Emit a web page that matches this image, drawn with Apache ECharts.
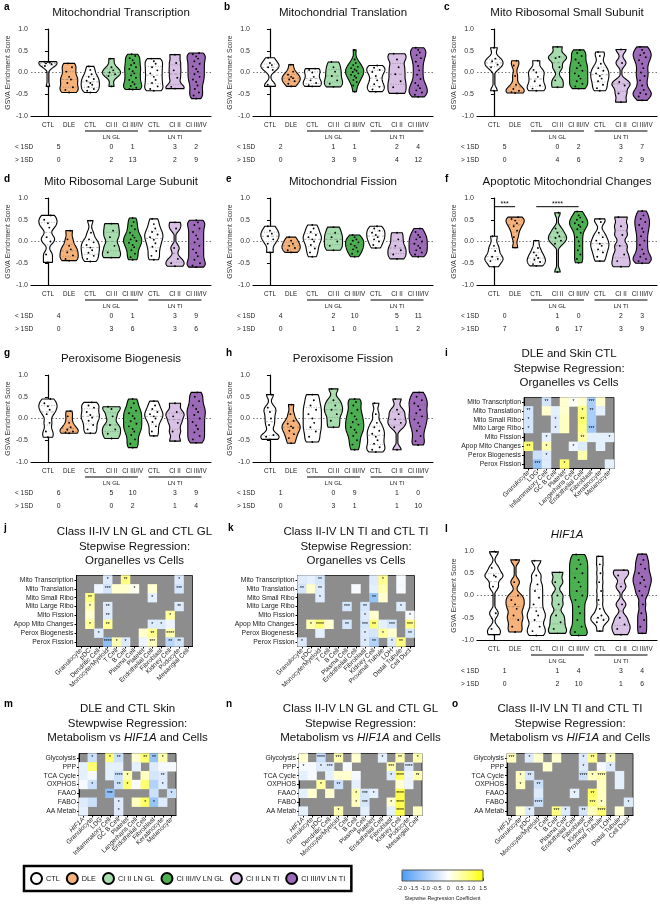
<!DOCTYPE html>
<html>
<head>
<meta charset="utf-8">
<script src="https://cdn.jsdelivr.net/npm/echarts@6/dist/echarts.min.js"></script>
<style>
  html, body { margin: 0; padding: 0; background: #fff; }
  #chart { width: 660px; height: 904px; }
</style>
</head>
<body>
<div id="chart"></div>
<script>
const FONT = '"Liberation Sans", Arial, sans-serif'

// ---- violin panels ----
const violinCats = ['CTL', 'DLE', 'CTL', 'CI II', 'CI III/IV', 'CTL', 'CI II', 'CI III/IV']
const groupNames = ['CTL', 'DLE', 'CTL', 'CI II LN GL', 'CI III/IV LN GL', 'CTL', 'CI II LN TI', 'CI III/IV LN TI']
const legendNames = ['CTL', 'DLE', 'CI II LN GL', 'CI III/IV LN GL', 'CI II LN TI', 'CI III/IV LN TI']
const sdRowLabels = ['< 1SD', '> 1SD']
const bracketLabels = ['LN GL', 'LN TI']
const bracketRanges = [[2, 4], [5, 7]]

const mitoTranscription = [
  [0.25, 0.24, 0.23, 0.21, 0.19, 0.15, -0.32],
  [0.21, 0.12, 0.02, -0.1, -0.16, -0.24, -0.34, -0.40, -0.46],
  [0.14, 0.06, -0.04, -0.1, -0.15, -0.19, -0.24, -0.28, -0.33, -0.38, -0.42, -0.46],
  [0.32, 0.12, 0.05, 0.0, -0.04, -0.08, -0.32],
  [0.42, 0.38, 0.33, 0.28, 0.22, 0.17, 0.12, 0.08, 0.03, -0.02, -0.07, -0.12, -0.17, -0.22, -0.27, -0.31, -0.35, -0.38, -0.39],
  [0.32, 0.26, 0.2, 0.12, 0.05, -0.02, -0.1, -0.17, -0.24, -0.32, -0.38, -0.42],
  [0.41, 0.22, 0.05, -0.12, -0.33, -0.37],
  [0.45, 0.42, 0.37, 0.32, 0.26, 0.2, 0.14, 0.08, 0.02, -0.04, -0.1, -0.16, -0.22, -0.3, -0.38, -0.46, -0.53, -0.6]
]
const mitoTranscriptionBelow = [5, null, null, 0, 1, null, 3, 2]
const mitoTranscriptionAbove = [0, null, null, 2, 13, null, 2, 9]

const mitoTranslation = [
  [0.34, 0.22, 0.17, 0.12, 0.06, -0.28, -0.32],
  [0.18, 0.02, -0.05, -0.1, -0.13, -0.16, -0.2, -0.26, -0.32],
  [0.09, 0.06, 0.0, -0.1, -0.18, -0.24, -0.29, -0.32],
  [0.24, 0.12, 0.02, -0.08, -0.18, -0.26, -0.33],
  [0.52, 0.3, 0.22, 0.17, 0.13, 0.1, 0.07, 0.04, 0.01, -0.02, -0.05, -0.08, -0.12, -0.17, -0.22, -0.3, -0.44],
  [0.16, 0.11, 0.06, 0.01, -0.08, -0.18, -0.27, -0.33, -0.39, -0.44],
  [0.43, 0.3, 0.12, -0.04, -0.2, -0.34, -0.48],
  [0.57, 0.52, 0.46, 0.4, 0.33, 0.25, 0.15, 0.05, -0.05, -0.15, -0.24, -0.3, -0.36, -0.41, -0.46, -0.51, -0.56]
]
const mitoTranslationBelow = [2, null, null, 1, 1, null, 2, 4]
const mitoTranslationAbove = [0, null, null, 3, 9, null, 4, 12]

const mitoSmallRibo = [
  [0.57, 0.32, 0.26, 0.18, 0.12, -0.42],
  [0.27, 0.16, -0.08, -0.28, -0.38, -0.42, -0.45, -0.47],
  [0.27, 0.06, 0.0, -0.1, -0.2, -0.3, -0.37, -0.42],
  [0.59, 0.36, 0.33, 0.12, -0.18, -0.34],
  [0.52, 0.45, 0.38, 0.3, 0.22, 0.16, 0.1, 0.04, -0.02, -0.08, -0.14, -0.2, -0.26, -0.32, -0.37],
  [0.47, 0.38, 0.2, 0.1, 0.04, -0.02, -0.08, -0.14, -0.2, -0.28, -0.36, -0.42],
  [0.53, 0.22, -0.22, -0.3, -0.48, -0.68],
  [0.59, 0.52, 0.45, 0.4, 0.35, 0.28, 0.2, 0.1, 0.0, -0.08, -0.18, -0.3, -0.4, -0.47, -0.5, -0.55, -0.64]
]
const mitoSmallRiboBelow = [5, null, null, 0, 2, null, 3, 7]
const mitoSmallRiboAbove = [0, null, null, 4, 6, null, 2, 9]

const mitoLargeRibo = [
  [0.6, 0.5, 0.42, 0.32, 0.1, 0.0, -0.3, -0.48],
  [0.25, 0.05, -0.1, -0.18, -0.25, -0.32, -0.4, -0.44],
  [0.48, 0.2, 0.05, -0.02, -0.08, -0.14, -0.2, -0.26, -0.33, -0.4, -0.46],
  [0.41, 0.25, 0.1, -0.1, -0.25, -0.37],
  [0.54, 0.45, 0.36, 0.28, 0.2, 0.14, 0.09, 0.05, 0.01, -0.03, -0.08, -0.13, -0.2, -0.28, -0.36, -0.42],
  [0.52, 0.4, 0.3, 0.22, 0.16, 0.1, 0.04, -0.04, -0.12, -0.22, -0.33, -0.42],
  [0.44, 0.3, -0.15, -0.4, -0.5, -0.57],
  [0.49, 0.44, 0.38, 0.3, 0.22, 0.14, 0.06, -0.02, -0.1, -0.18, -0.26, -0.34, -0.42, -0.5, -0.55, -0.59]
]
const mitoLargeRiboBelow = [4, null, null, 0, 1, null, 3, 9]
const mitoLargeRiboAbove = [0, null, null, 3, 6, null, 3, 6]

const mitoFission = [
  [0.35, 0.25, 0.18, 0.12, 0.05, -0.05, -0.25],
  [0.1, 0.02, -0.05, -0.1, -0.15, -0.2, -0.25],
  [0.38, 0.3, 0.22, 0.15, 0.1, 0.05, 0.0, -0.08, -0.16, -0.25, -0.35],
  [0.33, 0.2, 0.1, 0.0, -0.1, -0.2],
  [0.15, 0.1, 0.05, 0.02, -0.02, -0.06, -0.1, -0.14, -0.18, -0.23, -0.28, -0.35],
  [0.35, 0.3, 0.25, 0.2, 0.15, 0.1, 0.05, 0.0, -0.08, -0.15],
  [0.2, 0.05, -0.1, -0.2, -0.3, -0.4],
  [0.3, 0.22, 0.15, 0.1, 0.05, 0.0, -0.05, -0.1, -0.15, -0.2, -0.25, -0.3, -0.35]
]
const mitoFissionBelow = [4, null, null, 2, 10, null, 5, 11]
const mitoFissionAbove = [0, null, null, 1, 0, null, 1, 2]

const apopMito = [
  [0.12, -0.1, -0.22, -0.35, -0.4, -0.45, -0.58],
  [0.56, 0.52, 0.48, 0.42, 0.35, 0.25, 0.1, -0.14],
  [0.02, -0.15, -0.25, -0.32, -0.38, -0.42, -0.47, -0.52, -0.56],
  [0.66, 0.3, 0.2, 0.12, 0.08, 0.02, -0.05, -0.7],
  [0.69, 0.6, 0.55, 0.5, 0.45, 0.42, 0.38, 0.34, 0.28, 0.2, 0.1, 0.0, -0.1, -0.2, -0.3, -0.4, -0.49],
  [0.52, 0.45, 0.2, 0.1, 0.02, -0.05, -0.1, -0.18, -0.25, -0.35, -0.45],
  [0.56, 0.35, 0.15, -0.1, -0.3, -0.45, -0.58],
  [0.7, 0.6, 0.52, 0.45, 0.38, 0.3, 0.22, 0.12, 0.02, -0.08, -0.18, -0.28, -0.35, -0.4, -0.45, -0.5]
]
const apopMitoBelow = [0, null, null, 1, 0, null, 2, 3]
const apopMitoAbove = [7, null, null, 6, 17, null, 3, 9]
const apopMitoSigPairs = [[0, 1], [2, 4]]
const apopMitoSigLevel = [0.8, 0.8]
const apopMitoSigText = ['***', '****']

const peroxBiogenesis = [
  [0.45, 0.35, 0.28, 0.2, 0.1, -0.1, -0.3, -0.43],
  [0.17, 0.05, -0.1, -0.2, -0.26, -0.3, -0.32, -0.34],
  [0.37, 0.3, 0.25, 0.15, 0.08, 0.02, -0.05, -0.15, -0.25, -0.34],
  [0.27, 0.22, 0.05, -0.15, -0.25, -0.35, -0.46],
  [0.45, 0.35, 0.25, 0.18, 0.12, 0.06, 0.0, -0.06, -0.12, -0.18, -0.24, -0.3, -0.38, -0.48, -0.58, -0.67],
  [0.4, 0.3, 0.22, 0.15, 0.1, 0.05, 0.0, -0.08, -0.18, -0.3, -0.4],
  [0.35, 0.15, 0.05, -0.1, -0.3, -0.52],
  [0.6, 0.5, 0.4, 0.3, 0.22, 0.15, 0.08, 0.0, -0.08, -0.16, -0.24, -0.32, -0.4, -0.48, -0.56]
]
const peroxBiogenesisBelow = [6, null, null, 5, 10, null, 3, 9]
const peroxBiogenesisAbove = [0, null, null, 0, 2, null, 1, 4]

const peroxFission = [
  [0.55, 0.25, 0.15, 0.0, -0.15, -0.38, -0.42, -0.48],
  [0.32, 0.1, -0.05, -0.12, -0.18, -0.22, -0.28, -0.36, -0.45, -0.57],
  [0.55, 0.42, 0.3, 0.2, 0.1, 0.0, -0.1, -0.2, -0.3, -0.42, -0.54],
  [0.68, 0.42, 0.3, 0.2, 0.1, -0.05, -0.2],
  [0.45, 0.38, 0.3, 0.2, 0.12, 0.05, -0.02, -0.08, -0.14, -0.2, -0.26, -0.32, -0.4, -0.5, -0.6, -0.72],
  [0.35, 0.1, -0.1, -0.2, -0.28, -0.35, -0.42, -0.5, -0.58, -0.66, -0.72, -0.77],
  [0.45, 0.2, 0.1, -0.02, -0.1, -0.2, -0.72],
  [0.6, 0.5, 0.42, 0.35, 0.28, 0.2, 0.12, 0.05, -0.02, -0.1, -0.18, -0.28, -0.4, -0.52, -0.61]
]
const peroxFissionBelow = [1, null, null, 0, 9, null, 1, 0]
const peroxFissionAbove = [0, null, null, 3, 1, null, 1, 10]

const hif1a = [
  [0.98, 0.62, 0.45, 0.42, 0.2, -0.4, -0.75, -0.88],
  [0.8, 0.3, 0.0, -0.1, -0.2, -0.3, -0.45, -0.55, -0.7, -0.82],
  [0.78, 0.45, 0.25, 0.1, -0.05, -0.2, -0.35, -0.45, -0.55, -0.7, -0.8, -0.9],
  [0.52, 0.3, 0.0, -0.2, -0.45, -0.6, -0.75, -0.85],
  [0.92, 0.8, 0.7, 0.6, 0.5, 0.4, 0.3, 0.2, 0.1, 0.0, -0.1, -0.25, -0.4, -0.55, -0.7, -0.82, -0.9],
  [0.88, 0.7, 0.5, 0.3, 0.1, -0.1, -0.3, -0.45, -0.5, -0.55, -0.6, -0.8],
  [0.57, 0.45, 0.2, -0.2, -0.5, -0.65, -0.75, -0.88],
  [0.93, 0.8, 0.7, 0.6, 0.5, 0.42, 0.35, 0.28, 0.2, 0.1, 0.0, -0.2, -0.4, -0.55, -0.7, -0.85]
]
const hif1aBelow = [1, null, null, 1, 4, null, 3, 4]
const hif1aAbove = [0, null, null, 2, 10, null, 1, 6]

// ---- heatmaps ----
const organelleRows = ['Mito Transcription', 'Mito Translation', 'Mito Small Ribo', 'Mito Large Ribo', 'Mito Fission', 'Apop Mito Changes', 'Perox Biogenesis', 'Perox Fission']
const metabolismRows = ['Glycolysis', 'PPP', 'TCA Cycle', 'OXPHOS', 'FAAO', 'FABO', 'AA Metab']
const skinCells = ['Granulocyte', 'LDG', 'Inflammatory Cell', 'GC B Cell', 'Platelet', 'Langerhans Cell', 'Endothelial Cell', 'Fibroblast', 'Keratinocyte', 'Melanocyte']
const glCells = ['Granulocyte', 'pDC', 'Dendritic Cell', 'Monocyte/Myeloid', 'T Cell', 'B Cell', 'Plasma Cell', 'Platelet', 'Endothelial Cell', 'Fibroblast', 'Kidney Cell', 'Podocyte', 'Mesangial Cell']
const tiCells = ['Granulocyte', 'pDC', 'Monocyte/Myeloid', 'T Cell', 'B Cell', 'Plasma Cell', 'Endothelial Cell', 'Fibroblast', 'Kidney Cell', 'Proximal Tubule', 'LOH', 'Distal Tubule', 'Cell Duct']
const skinMetCols = ['HIF1A'].concat(skinCells)
const glMetCols = ['HIF1A'].concat(glCells)
const tiMetCols = ['HIF1A'].concat(tiCells)

// [column, row, coefficient, stars]; cells not listed are grey (not selected)
const skinOrganelleCells = [
  [2, 0, -0.5, '**'], [4, 0, 0.3, ''], [5, 0, 0.05, '*'], [6, 0, 0.3, ''], [7, 0, -1.0, '***'], [8, 0, 0.3, ''],
  [0, 1, -0.5, '**'], [2, 1, 0.3, ''], [3, 1, -0.3, ''], [4, 1, 0.3, ''], [6, 1, 0.8, '*'], [7, 1, -1.0, '**'], [8, 1, -0.3, ''],
  [0, 2, -0.5, '*'], [3, 2, -0.4, '*'], [4, 2, 0.4, ''], [6, 2, 0.9, '**'], [7, 2, -1.0, ''],
  [0, 3, -0.5, '*'], [3, 3, -0.4, '*'], [4, 3, 0.4, ''], [6, 3, 0.8, ''], [7, 3, -1.1, '***'],
  [2, 4, -0.3, '*'], [6, 4, 0.6, '**'], [7, 4, -0.3, ''], [8, 4, -0.3, ''], [9, 4, -0.3, '*'],
  [0, 5, 0.9, '**'], [2, 5, 0.5, '*'], [5, 5, -0.2, '*'], [6, 5, -0.4, ''], [8, 5, -0.3, ''],
  [1, 6, -0.6, ''], [2, 6, -0.4, '*'], [6, 6, 0.5, ''],
  [1, 7, -1.2, '***'], [2, 7, -0.4, ''], [4, 7, 0.9, '*'], [9, 7, -0.3, '']
]
const glOrganelleCells = [
  [3, 0, -0.4, '*'], [5, 0, 0.8, '**'], [11, 0, -0.4, '*'],
  [2, 1, -0.2, ''], [3, 1, -0.5, '***'], [4, 1, 0.3, ''], [5, 1, 0.3, ''], [6, 1, 0.1, '*'], [8, 1, 0.3, ''], [11, 1, -0.5, '***'],
  [1, 2, 0.8, '**'], [8, 2, -0.3, '*'],
  [1, 3, 0.5, '*'], [3, 3, -0.4, '**'], [11, 3, -0.4, '**'],
  [1, 4, 0.3, ''], [3, 4, -0.4, '**'], [10, 4, 0.6, '*'],
  [1, 5, 0.6, '*'], [3, 5, 0.7, '**'], [8, 5, -0.4, '*'], [9, 5, -0.4, '*'], [10, 5, -0.2, ''],
  [2, 6, -0.4, '*'], [7, 6, 0.3, ''], [8, 6, 0.7, '**'], [10, 6, 0.5, '****'],
  [3, 7, -1.3, '****'], [4, 7, 0.5, '*'], [5, 7, -0.4, '*'], [7, 7, -0.2, ''], [8, 7, 0.4, '***'], [10, 7, -0.8, '**'], [11, 7, -0.5, '**']
]
const tiOrganelleCells = [
  [0, 0, -0.4, ''], [1, 0, -0.3, ''], [2, 0, -0.5, '**'], [8, 0, -0.4, ''], [9, 0, 0.7, '*'], [11, 0, -0.1, ''],
  [0, 1, -0.5, '**'], [1, 1, 0.3, ''], [2, 1, -0.4, '**'], [6, 1, -0.1, ''], [8, 1, -0.3, ''], [9, 1, 0.5, ''], [11, 1, -0.1, ''],
  [2, 2, -0.4, '*'], [8, 2, -1.2, '**'], [9, 2, 0.3, ''],
  [5, 3, -0.5, '***'], [7, 3, -0.5, '**'], [11, 3, -0.4, '*'],
  [7, 4, -0.4, '*'], [8, 4, 0.3, ''], [12, 4, -0.1, '*'],
  [1, 5, 0.5, '*'], [2, 5, 0.9, '****'], [3, 5, 0.3, ''], [5, 5, -0.5, '**'], [7, 5, -0.5, '***'], [8, 5, 0.9, '**'], [9, 5, -0.3, ''], [10, 5, -0.5, '***'], [12, 5, 0.8, '***'],
  [2, 6, -0.3, ''], [7, 6, -0.4, '*'], [8, 6, -0.5, ''], [9, 6, 0.6, '*'], [10, 6, 0.3, ''], [12, 6, -0.5, '**'],
  [0, 7, -0.4, '*'], [7, 7, -0.4, '*'], [8, 7, -0.9, '**'], [10, 7, -0.4, '*'], [11, 7, 0.8, '**']
]
const skinMetabolismCells = [
  [1, 0, -0.6, '*'], [3, 0, 0.9, '*'], [4, 0, -0.6, '**'], [6, 0, 0.3, ''], [7, 0, 0.9, '**'], [8, 0, -1.2, '**'], [9, 0, 0.5, '*'],
  [0, 1, -0.3, ''], [1, 1, 0.9, ''], [3, 1, -0.3, ''], [4, 1, -0.3, ''], [6, 1, -0.3, ''], [8, 1, -0.4, ''], [9, 1, -0.1, ''], [10, 1, -0.1, ''],
  [0, 2, -0.3, ''], [1, 2, -0.1, ''], [3, 2, -0.3, ''], [4, 2, -0.6, '****'], [5, 2, 0.5, '*'], [7, 2, 0.4, ''], [8, 2, -0.5, ''], [9, 2, -0.4, '**'],
  [0, 3, -0.1, ''], [1, 3, -0.6, '*'], [4, 3, -0.6, '**'], [5, 3, 0.9, '*'], [6, 3, -0.1, ''], [7, 3, 0.9, ''], [8, 3, -0.9, ''], [9, 3, -0.4, '*'],
  [3, 4, -1.3, '***'], [8, 4, -0.6, ''], [10, 4, -0.6, '*'],
  [0, 5, -0.4, ''], [1, 5, -0.6, ''], [4, 5, -0.4, '*'], [6, 5, 0.4, ''], [7, 5, 1.0, '*'], [8, 5, -1.2, '*'], [9, 5, -0.4, ''],
  [0, 6, -0.3, ''], [4, 6, -0.4, '*']
]
const glMetabolismCells = [
  [0, 0, 0.3, ''], [2, 0, -0.6, '****'], [4, 0, 0.5, '***'], [6, 0, 0.3, ''], [9, 0, -0.3, '*'], [11, 0, 0.5, '**'], [13, 0, 0.5, '*'],
  [0, 1, -0.1, '*'], [1, 1, -0.1, ''], [2, 1, -0.4, '*'], [3, 1, -0.4, '***'], [5, 1, -0.1, ''], [10, 1, 0.5, '***'], [12, 1, -0.4, '****'],
  [0, 2, -0.3, ''], [1, 2, -0.1, ''], [3, 2, -0.3, ''], [4, 2, 0.3, ''], [5, 2, 0.3, ''], [6, 2, -0.1, ''], [10, 2, -0.4, '*'], [11, 2, 1.0, '****'], [12, 2, -0.2, ''], [13, 2, 0.5, '**'],
  [2, 3, 0.6, '*'], [4, 3, -0.6, '**'], [6, 3, -0.3, ''], [11, 3, 0.3, ''], [12, 3, -0.2, ''],
  [0, 4, -0.3, ''], [1, 4, 0.3, ''], [3, 4, 0.3, ''], [6, 4, 0.5, '*'], [7, 4, -0.5, '***'], [8, 4, -0.3, '*'], [11, 4, 1.1, '****'],
  [6, 5, 0.4, '*'], [7, 5, -0.5, '***'], [10, 5, 0.3, '*'], [11, 5, 1.1, '****'],
  [0, 6, -0.3, ''], [4, 6, 0.5, '*'], [7, 6, -0.3, ''], [10, 6, -0.3, ''], [11, 6, 1.1, '****'], [13, 6, 0.4, '']
]
const tiMetabolismCells = [
  [0, 0, 0.4, '***'], [2, 0, -0.4, '*'], [3, 0, 0.3, ''], [5, 0, 0.3, ''], [8, 0, -0.4, '*'], [9, 0, 0.7, '**'], [11, 0, 0.4, '*'],
  [4, 1, 0.3, ''], [8, 1, -0.4, '*'], [10, 1, -0.1, ''], [11, 1, -0.4, '*'],
  [1, 2, 0.4, '*'], [2, 2, -0.5, '**'], [8, 2, -0.6, '****'], [9, 2, 0.4, '*'], [10, 2, 0.5, '****'], [12, 2, -0.3, ''],
  [1, 3, 0.4, '*'], [3, 3, -0.6, '**'], [10, 3, 0.4, ''], [12, 3, -0.3, ''],
  [3, 4, -0.4, ''], [7, 4, -0.3, '*'], [9, 4, 1.0, '**'], [10, 4, 0.4, ''],
  [3, 5, -0.6, '****'], [9, 5, 0.9, '***'], [10, 5, 0.4, '*'], [13, 5, -0.4, '*'],
  [1, 6, 0.3, ''], [2, 6, -0.4, '*'], [5, 6, 0.8, '***'], [6, 6, -0.4, '*'], [8, 6, -0.5, '**'], [9, 6, 0.4, ''], [10, 6, 0.9, '****'], [12, 6, 0.3, '']
]

// colour bar ticks
const colorbarMin = -2
const colorbarMax = 1.5

// ---- styles ----
const groupColors = ['#ffffff', '#f7b27a', '#ffffff', '#a6dcae', '#4bb04f', '#ffffff', '#d9c1e5', '#9d69b9']
const legendColors = ['#ffffff', '#f7b27a', '#a6dcae', '#4bb04f', '#d9c1e5', '#9d69b9']
const scaleColors = ['#4a9bf5', '#7cb6f7', '#a9cdf9', '#d4e6fc', '#ffffff', '#ffffb0', '#ffff62', '#ffff00']
const GREY = '#8d8d8d'

const grids = []
const xAxes = []
const yAxes = []
const series = []
const graphics = []
const heatmapIdx = []

function quantile(s, q) {
  const p = (s.length - 1) * q
  const i = Math.floor(p)
  return i + 1 < s.length ? s[i] + (s[i + 1] - s[i]) * (p - i) : s[i]
}

function violinRenderer(vals, k, color) {
  const sorted = vals.slice().sort((a, b) => a - b)
  const bw = 0.085
  const dens = y => sorted.reduce((s, v) => s + Math.exp(-0.5 * Math.pow((y - v) / bw, 2)), 0)
  const spread = [0, -0.7, 0.7, -0.35, 0.35]
  return function (params, api) {
    const lo = sorted[0]
    const hi = sorted[sorted.length - 1]
    const steps = 48
    const ys = []
    const ds = []
    for (let i = 0; i <= steps; i++) {
      const y = lo + (hi - lo) * i / steps
      ys.push(y)
      ds.push(dens(y))
    }
    const maxD = Math.max.apply(null, ds)
    const half = api.size([1, 0])[0] * 0.43
    const right = []
    const left = []
    ys.forEach((y, i) => {
      const c = api.coord([k, y])
      const w = Math.max(ds[i] / maxD * half, 0.9)
      right.push([c[0] + w, c[1]])
      left.unshift([c[0] - w, c[1]])
    })
    const children = [{
      type: 'polygon',
      shape: { points: right.concat(left) },
      style: { fill: color, stroke: '#000', lineWidth: 1.1 }
    }]
    ;[0.25, 0.5, 0.75].forEach(q => {
      const v = quantile(sorted, q)
      const c = api.coord([k, v])
      const w = dens(v) / maxD * half
      children.push({
        type: 'line',
        shape: { x1: c[0] - w, y1: c[1], x2: c[0] + w, y2: c[1] },
        style: { stroke: '#666', lineWidth: 0.5, lineDash: q === 0.5 ? [3, 2] : [1, 1.5] }
      })
    })
    sorted.forEach((v, i) => {
      const c = api.coord([k, v])
      const w = dens(v) / maxD * half
      children.push({
        type: 'circle',
        shape: { cx: c[0] + spread[i % 5] * w * 0.6, cy: c[1], r: 0.95 },
        style: { fill: '#000' }
      })
    })
    return { type: 'group', children }
  }
}

function annotRenderer(p) {
  return function (params, api) {
    const px = x => api.coord([x, -1])[0]
    const by = api.coord([0, -1])[1]
    const ch = []
    const z0 = api.coord([-0.8, 0])
    const z1 = api.coord([7.7, 0])
    ch.push({ type: 'line', shape: { x1: z0[0], y1: z0[1], x2: z1[0], y2: z1[1] }, style: { stroke: '#555', lineWidth: 0.8, lineDash: [1.5, 2] } })
    bracketRanges.forEach((r, i) => {
      ch.push({ type: 'line', shape: { x1: px(r[0] - 0.25), y1: by + 15, x2: px(r[1] + 0.25), y2: by + 15 }, style: { stroke: '#000', lineWidth: 1.2 } })
      ch.push({ type: 'text', x: (px(r[0]) + px(r[1])) / 2, y: by + 21.5, style: { text: bracketLabels[i], fill: '#222', fontSize: 6, fontFamily: FONT, align: 'center', verticalAlign: 'middle' } })
    })
    ;[p.below, p.above].forEach((row, r) => {
      const y = by + 31 + r * 13
      ch.push({ type: 'text', x: px(-0.8) - 16, y, style: { text: sdRowLabels[r], fill: '#222', fontSize: 6.5, fontFamily: FONT, align: 'left', verticalAlign: 'middle' } })
      row.forEach((n, i) => {
        if (n === null) return
        const x = i === 0 ? (px(0) + px(1)) / 2 : px(i)
        ch.push({ type: 'text', x, y, style: { text: String(n), fill: '#222', fontSize: 6.8, fontFamily: FONT, align: 'center', verticalAlign: 'middle' } })
      })
    })
    if (p.sigPairs) {
      p.sigPairs.forEach((pair, i) => {
        const y = api.coord([0, p.sigLevel[i]])[1]
        ch.push({ type: 'line', shape: { x1: px(pair[0]), y1: y, x2: px(pair[1]), y2: y }, style: { stroke: '#000', lineWidth: 1 } })
        ch.push({ type: 'text', x: (px(pair[0]) + px(pair[1])) / 2, y: y + 1, style: { text: p.sigText[i], fill: '#000', fontSize: 7, fontFamily: FONT, align: 'center', verticalAlign: 'bottom' } })
      })
    }
    return { type: 'group', children: ch }
  }
}

function addText(text, x, y, size, opts) {
  graphics.push(Object.assign({
    type: 'text', x, y, silent: true,
    style: Object.assign({ text, fill: '#111', fontSize: size, fontFamily: FONT, align: 'center', verticalAlign: 'middle' }, opts || {})
  }))
}

function addViolinPanel(p) {
  const gi = grids.length
  const h = p.height || 87
  grids.push({ left: p.left, top: p.top, width: 180, height: h, outerBoundsMode: 'none' })
  xAxes.push({
    gridIndex: gi, type: 'value', min: -0.8, max: 7.7,
    axisLine: { show: true, onZero: false, lineStyle: { color: '#000', width: 1.2 } },
    axisTick: { show: false }, splitLine: { show: false },
    axisLabel: { customValues: [0, 1, 2, 3, 4, 5, 6, 7], formatter: v => violinCats[Math.round(v)], fontSize: 6.3, color: '#222', margin: 6, fontFamily: FONT }
  })
  yAxes.push({
    gridIndex: gi, type: 'value', min: -1, max: 1, interval: 0.5,
    axisLine: { show: true, lineStyle: { color: '#000', width: 1.2 } },
    axisTick: { show: true, length: 3, lineStyle: { color: '#000' } },
    splitLine: { show: false },
    axisLabel: { formatter: v => v.toFixed(1), fontSize: 7, color: '#333', margin: 3, fontFamily: FONT },
    name: 'GSVA Enrichment Score', nameLocation: 'middle', nameGap: 15,
    nameTextStyle: { fontSize: 6.8, color: '#333', fontFamily: FONT }
  })
  series.push({
    type: 'custom', xAxisIndex: gi, yAxisIndex: gi, coordinateSystem: 'cartesian2d',
    data: [[0, 0]], renderItem: annotRenderer(p), silent: true, clip: false, z: 1
  })
  p.data.forEach((vals, k) => {
    series.push({
      type: 'custom', name: groupNames[k], xAxisIndex: gi, yAxisIndex: gi, coordinateSystem: 'cartesian2d',
      itemStyle: { color: groupColors[k] }, data: [[k, quantile(vals.slice().sort((a, b) => a - b), 0.5)]],
      renderItem: violinRenderer(vals, k, groupColors[k]), silent: true, clip: false, z: 3
    })
  })
  addText(p.title, p.left + 90, p.top - 16.5, 11.5, p.italic ? { fontStyle: 'italic' } : {})
}

function addHeatmap(h) {
  const gi = grids.length
  grids.push({ left: h.left, top: h.top, width: h.width, height: h.height, show: true, backgroundColor: GREY, borderColor: '#333', borderWidth: 1, outerBoundsMode: 'none' })
  xAxes.push({
    gridIndex: gi, type: 'category', data: h.cols,
    axisLine: { show: true, lineStyle: { color: '#000' } },
    axisTick: { show: true, alignWithLabel: true, length: 2, lineStyle: { color: '#000' } },
    splitLine: { show: false },
    axisLabel: {
      interval: 0, rotate: 45, fontSize: 6.5, color: '#222', margin: 3, fontFamily: FONT,
      formatter: v => v === 'HIF1A' ? '{i|HIF1A}' : v,
      rich: { i: { fontStyle: 'italic', fontSize: 6.5, fontFamily: FONT, color: '#222' } }
    }
  })
  yAxes.push({
    gridIndex: gi, type: 'category', data: h.rows, inverse: true,
    axisLine: { show: true, lineStyle: { color: '#000' } },
    axisTick: { show: true, alignWithLabel: true, length: 2, lineStyle: { color: '#000' } },
    splitLine: { show: false },
    axisLabel: { interval: 0, fontSize: 6.8, color: '#222', margin: 3, fontFamily: FONT }
  })
  heatmapIdx.push(series.length)
  series.push({
    type: 'heatmap', xAxisIndex: gi, yAxisIndex: gi, data: h.cells, silent: true,
    itemStyle: { borderWidth: 0 },
    label: { show: true, formatter: q => q.data[3] || '', fontSize: 5, color: '#000', fontFamily: FONT }
  })
  addText(h.title, h.left + h.width / 2, h.titleTop, 11.5, { verticalAlign: 'top', lineHeight: 14.5, rich: h.rich || undefined })
}

const richTitle = {
  n: { fontSize: 11.5, fontFamily: FONT, lineHeight: 14.5, fill: '#111' },
  i: { fontSize: 11.5, fontFamily: FONT, lineHeight: 14.5, fontStyle: 'italic', fill: '#111' }
}

addViolinPanel({ title: 'Mitochondrial Transcription', data: mitoTranscription, below: mitoTranscriptionBelow, above: mitoTranscriptionAbove, left: 31, top: 29 })
addViolinPanel({ title: 'Mitochondrial Translation', data: mitoTranslation, below: mitoTranslationBelow, above: mitoTranslationAbove, left: 253, top: 29 })
addViolinPanel({ title: 'Mito Ribosomal Small Subunit', data: mitoSmallRibo, below: mitoSmallRiboBelow, above: mitoSmallRiboAbove, left: 477, top: 29 })
addViolinPanel({ title: 'Mito Ribosomal Large Subunit', data: mitoLargeRibo, below: mitoLargeRiboBelow, above: mitoLargeRiboAbove, left: 31, top: 198 })
addViolinPanel({ title: 'Mitochondrial Fission', data: mitoFission, below: mitoFissionBelow, above: mitoFissionAbove, left: 253, top: 198 })
addViolinPanel({ title: 'Apoptotic Mitochondrial Changes', data: apopMito, below: apopMitoBelow, above: apopMitoAbove, left: 477, top: 198, sigPairs: apopMitoSigPairs, sigLevel: apopMitoSigLevel, sigText: apopMitoSigText })
addViolinPanel({ title: 'Peroxisome Biogenesis', data: peroxBiogenesis, below: peroxBiogenesisBelow, above: peroxBiogenesisAbove, left: 31, top: 375 })
addViolinPanel({ title: 'Peroxisome Fission', data: peroxFission, below: peroxFissionBelow, above: peroxFissionAbove, left: 253, top: 375 })
addViolinPanel({ title: 'HIF1A', italic: true, data: hif1a, below: hif1aBelow, above: hif1aAbove, left: 477, top: 551, height: 89 })

addHeatmap({ title: 'DLE and Skin CTL\nStepwise Regression:\nOrganelles vs Cells', rows: organelleRows, cols: skinCells, cells: skinOrganelleCells, left: 524, top: 397.5, width: 90, height: 71, titleTop: 347 })
addHeatmap({ title: 'Class II-IV LN GL and CTL GL\nStepwise Regression:\nOrganelles vs Cells', rows: organelleRows, cols: glCells, cells: glOrganelleCells, left: 76.5, top: 575.5, width: 116, height: 71, titleTop: 525 })
addHeatmap({ title: 'Class II-IV LN TI and CTL TI\nStepwise Regression:\nOrganelles vs Cells', rows: organelleRows, cols: tiCells, cells: tiOrganelleCells, left: 297.5, top: 575.5, width: 117, height: 71, titleTop: 525 })
addHeatmap({ title: '{n|DLE and CTL Skin}\n{n|Stewpwise Regression:}\n{n|Metabolism vs }{i|HIF1A}{n| and Cells}', rich: richTitle, rows: metabolismRows, cols: skinMetCols, cells: skinMetabolismCells, left: 79, top: 753.5, width: 97, height: 62, titleTop: 702 })
addHeatmap({ title: '{n|Class II-IV LN GL and CTL GL}\n{n|Stepwise Regression:}\n{n|Metabolism vs }{i|HIF1A}{n| and Cells}', rich: richTitle, rows: metabolismRows, cols: glMetCols, cells: glMetabolismCells, left: 299, top: 753.5, width: 123, height: 62, titleTop: 702 })
addHeatmap({ title: '{n|Class II-IV LN TI and CTL TI}\n{n|Stepwise Regression:}\n{n|Metabolism vs }{i|HIF1A}{n| and Cells}', rich: richTitle, rows: metabolismRows, cols: tiMetCols, cells: tiMetabolismCells, left: 507, top: 753.5, width: 126, height: 62, titleTop: 702 })

// colour bar axis
const cbi = grids.length
grids.push({ left: 402, top: 870, width: 81, height: 11, show: true, z: 10, backgroundColor: 'transparent', borderColor: '#555', borderWidth: 1, outerBoundsMode: 'none' })
xAxes.push({
  gridIndex: cbi, type: 'value', min: colorbarMin, max: colorbarMax, interval: 0.5,
  axisLine: { show: false }, splitLine: { show: false },
  axisTick: { show: true, inside: true, length: 3, lineStyle: { color: '#333' } },
  axisLabel: { fontSize: 5.5, color: '#222', margin: 4, fontFamily: FONT, formatter: v => v === 0 ? '0' : v.toFixed(1), hideOverlap: false },
  name: 'Stepwise Regression Coefficient', nameLocation: 'middle', nameGap: 15,
  nameTextStyle: { fontSize: 5.3, color: '#222', fontFamily: FONT }
})
yAxes.push({ gridIndex: cbi, type: 'value', min: 0, max: 1, show: false })

// panel letters
const letters = [['a', 4, 7], ['b', 224, 7], ['c', 444, 7], ['d', 4, 179], ['e', 226, 179], ['f', 445, 179],
  ['g', 4, 353], ['h', 226, 353], ['i', 445, 353], ['j', 4, 528], ['k', 228, 528], ['l', 445, 529],
  ['m', 4, 704], ['n', 226, 704], ['o', 452, 704]]
letters.forEach(l => addText(l[0], l[1], l[2], 10, { fontWeight: 'bold', align: 'left', fill: '#000' }))

const chart = echarts.init(document.getElementById('chart'))
chart.setOption({
  animation: false,
  backgroundColor: '#fff',
  textStyle: { fontFamily: FONT },
  grid: grids,
  xAxis: xAxes,
  yAxis: yAxes,
  series,
  graphic: graphics,
  legend: {
    left: 24, top: 866, orient: 'horizontal', padding: [6, 6], itemGap: 6,
    itemWidth: 11, itemHeight: 11, borderColor: '#000', borderWidth: 2.5, borderRadius: 0,
    selectedMode: false, icon: 'circle',
    textStyle: { fontSize: 7.3, color: '#111', fontFamily: FONT, padding: [0, 0, 0, -1] },
    data: legendNames.map((n, i) => ({ name: n, itemStyle: { color: legendColors[i], borderColor: '#000', borderWidth: 2 } }))
  },
  visualMap: {
    type: 'continuous', min: colorbarMin, max: colorbarMax, dimension: 2, seriesIndex: heatmapIdx,
    orient: 'horizontal', left: 402, top: 870, itemWidth: 11, itemHeight: 81, padding: 0,
    calculable: false, hoverLink: false, text: null, showLabel: false,
    inRange: { color: scaleColors }
  }
})
</script>
</body>
</html>
